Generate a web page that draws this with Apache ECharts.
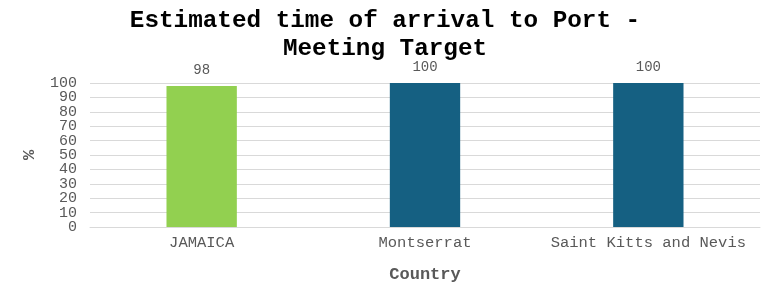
<!DOCTYPE html>
<html>
<head>
<meta charset="utf-8">
<script src="https://cdn.jsdelivr.net/npm/echarts@6/dist/echarts.min.js"></script>
<style>
html,body{margin:0;padding:0;background:#fff;}
#c{width:770px;height:291px;}
</style>
</head>
<body>
<div id="c"></div>
<script>
var categories = ["JAMAICA", "Montserrat", "Saint Kitts and Nevis"];
var values = [98, 100, 100];
var barColors = ["#92d050", "#156082", "#156082"];
var titleText = "Estimated time of arrival to Port -\nMeeting Target";
var xName = "Country";
var yName = "%";

var font = "'Liberation Mono', 'Courier New', monospace";
var labelBase = {fontFamily: font, fontSize: 15, color: '#595959', margin: 13, hideOverlap: false};
function yAxisDef(isMain) {
  return {
    type: 'value',
    position: 'left',
    min: 0, max: 100, interval: 10,
    name: isMain ? yName : '',
    nameLocation: 'middle',
    nameGap: 52,
    nameRotate: 90,
    nameTextStyle: {fontFamily: font, fontSize: 17, fontWeight: 'bold', color: '#595959'},
    axisLine: {show: false},
    axisTick: {show: false},
    axisLabel: Object.assign({}, labelBase, {
      showMinLabel: isMain, showMaxLabel: isMain,
      formatter: function (v) {
        var even = (Math.round(v) % 20) === 0;
        return (isMain ? even : !even) ? String(v) : '';
      }
    }),
    splitLine: {show: isMain, lineStyle: {color: '#d9d9d9'}}
  };
}
var chart = echarts.init(document.getElementById('c'), null, {renderer: 'canvas'});
chart.setOption({
  animation: false,
  title: {
    text: titleText,
    left: 'center',
    top: 2,
    textStyle: {fontFamily: font, fontSize: 24.3, fontWeight: 'bold', color: '#000', lineHeight: 28}
  },
  grid: {left: 90, right: 10, top: 83, bottom: 64, containLabel: false},
  xAxis: {
    type: 'category',
    data: categories,
    name: xName,
    nameLocation: 'middle',
    nameGap: 39,
    nameTextStyle: {fontFamily: font, fontSize: 17, fontWeight: 'bold', color: '#595959'},
    axisLine: {show: true, lineStyle: {color: '#d9d9d9'}},
    axisTick: {show: false},
    axisLabel: {fontFamily: font, fontSize: 15.5, color: '#595959', margin: 8, interval: 0, hideOverlap: false}
  },
  yAxis: [yAxisDef(true), yAxisDef(false)],
  series: [{
    type: 'bar',
    yAxisIndex: 0,
    barWidth: '31.5%',
    data: values.map(function(v, i){ return {value: v, itemStyle: {color: barColors[i]}}; }),
    label: {show: true, position: 'top', distance: 9, fontFamily: font, fontSize: 14, color: '#595959'}
  }]
});
</script>
</body>
</html>
